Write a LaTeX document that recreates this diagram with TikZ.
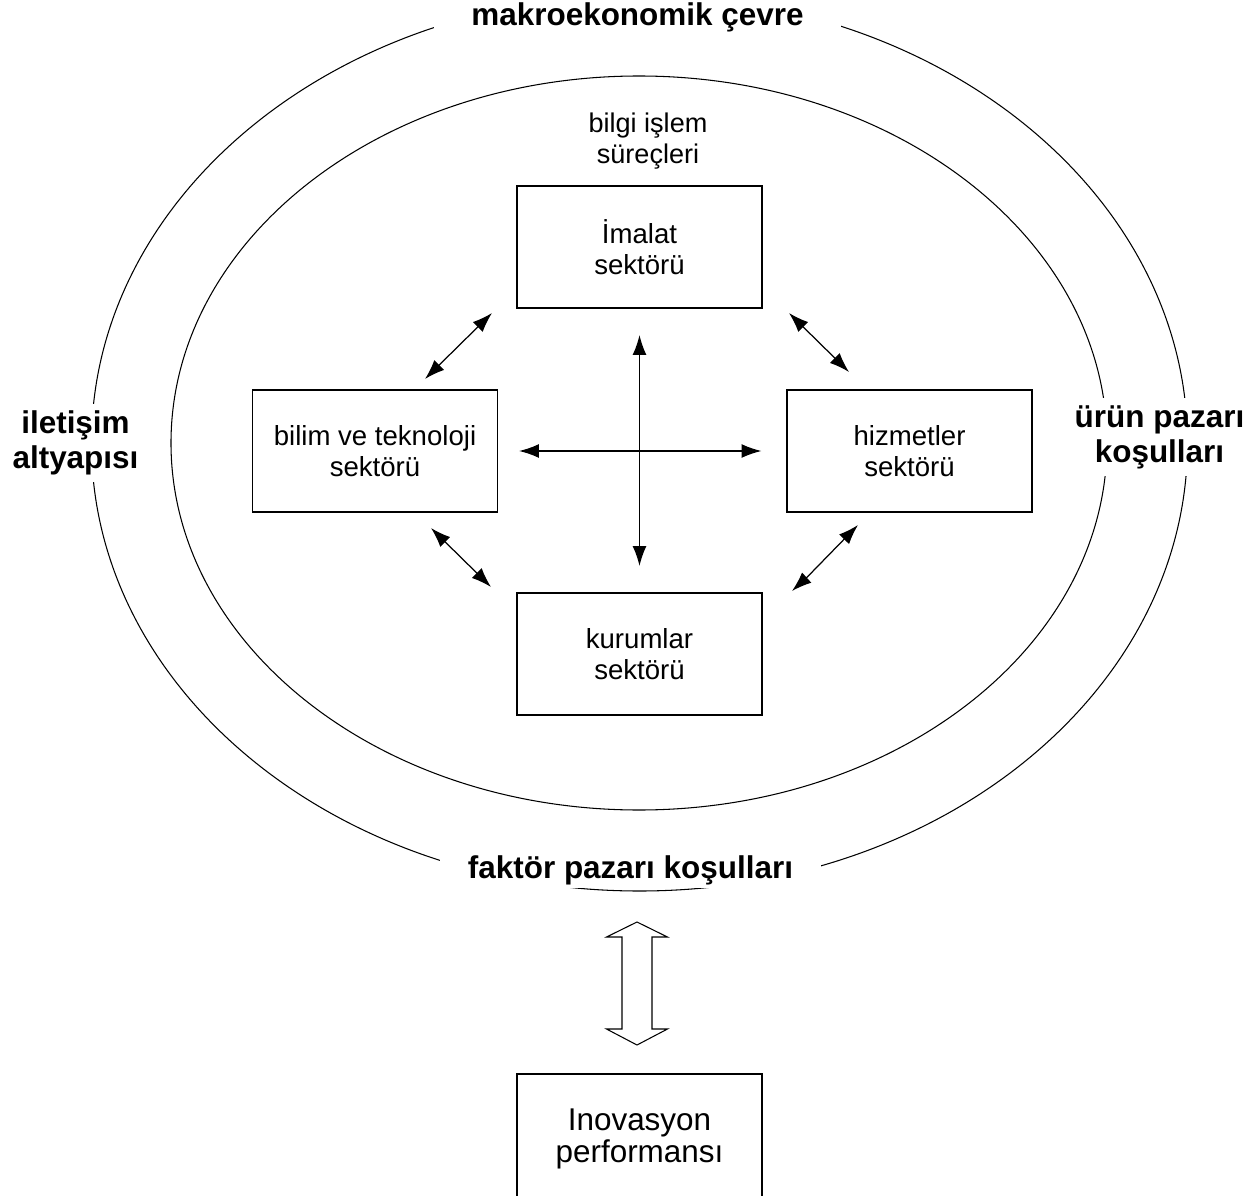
\documentclass[tikz,border=0pt]{standalone}
\usepackage{fontspec}
\setmainfont{Liberation Sans}
\usepackage{tikz}
\usetikzlibrary{positioning,arrows.meta,calc}
\tikzset{
    sector/.style = {
        draw,
        shape=rectangle,
        minimum height=2.44cm,
        minimum width=4.9cm,
        line width=0.7pt,
        align=center,
        font=\fontsize{15.7}{17.3}\selectfont
    },
    result/.style = {
        draw,
        shape=rectangle,
        minimum height=2.6cm,
        minimum width=4.9cm,
        line width=0.7pt,
        align=center,
        font=\fontsize{17.9}{18.7}\selectfont
    },
    ringtext/.style = {
        fill=white,
        align=center,
        font=\bfseries\fontsize{17.9}{19.8}\selectfont
    },
    empty/.style = {
        shape=rectangle,
        align=center,
        font=\fontsize{15.4}{18.1}\selectfont
    },
    hollow/.style = {
        draw,
        fill=white,
        line width=0.6pt
    },
    >={Latex[length=11.3pt,width=7.9pt]},
}
\begin{document}
\begin{tikzpicture}
            \useasboundingbox (-12.79,9.02) rectangle (12.21,-14.88);

            % the two rings
            \draw[line width=0.6pt] (0,0.16) ellipse [x radius=10.96, y radius=8.96];
            \draw[line width=0.6pt] (-0.01,0.16) ellipse [x radius=9.36, y radius=7.34];

            \node[ringtext, anchor=base, inner xsep=0.75cm, inner ysep=2pt] (makro)  at (-0.04, 8.5)   {makroekonomik çevre};
            \node[ringtext, anchor=base, inner xsep=0.55cm, inner ysep=2pt] (faktor) at (-0.18, -8.54) {faktör pazarı koşulları};
            \node[ringtext, inner xsep=2pt, inner ysep=4pt] (iletisim) at (-11.28, 0.16) {iletişim\\altyapısı};
            \node[ringtext, inner xsep=2pt, inner ysep=4pt] (urun)     at (10.4, 0.28)   {ürün pazarı\\koşulları};

            \node[empty]  (bilgi)     at (0.17, 6.2)   {bilgi işlem\\süreçleri};
            \node[sector] (imalat)    at (0,     4.08) {İmalat\\sektörü};
            \node[sector] (bilim)     at (-5.29, 0)    {bilim ve teknoloji\\sektörü};
            \node[sector] (hizmetler) at (5.4,   0)    {hizmetler\\sektörü};
            \node[sector] (kurumlar)  at (0,    -4.06) {kurumlar\\sektörü};
            \node[result] (inov)      at (0,   -13.76) {Inovasyon\\performansı};

            \path[draw, <->, line width=0.7pt, shorten <=0.53cm, shorten >=0.53cm] (imalat) -- (kurumlar);
            \path[draw, <->, line width=0.7pt, shorten <=0.42cm, shorten >=0.5cm]  (bilim) -- (hizmetler);

            % diagonal links
            \coordinate (tl a) at (-4.29, 1.44);
            \coordinate (tl b) at (-2.95, 2.76);
            \coordinate (tr a) at (2.99, 2.76);
            \coordinate (tr b) at (4.19, 1.58);
            \coordinate (bl a) at (-4.17, -1.54);
            \coordinate (bl b) at (-2.97, -2.72);
            \coordinate (br a) at (4.37, -1.48);
            \coordinate (br b) at (3.05, -2.8);
            \path[draw, <->, line width=0.7pt] (tl a) -- (tl b);
            \path[draw, <->, line width=0.7pt] (tr a) -- (tr b);
            \path[draw, <->, line width=0.7pt] (bl a) -- (bl b);
            \path[draw, <->, line width=0.7pt] (br a) -- (br b);

            % wide arrow to the result
            \coordinate (swap) at (-0.05, -9.42);
            \path[hollow] (swap) -- ++(0.61,-0.3) -- ++(-0.31,0) -- ++(0,-1.84) -- ++(0.31,0)
                -- ++(-0.61,-0.32) -- ++(-0.61,0.32) -- ++(0.31,0) -- ++(0,1.84) -- ++(-0.31,0) -- cycle;
        \end{tikzpicture}
\end{document}
